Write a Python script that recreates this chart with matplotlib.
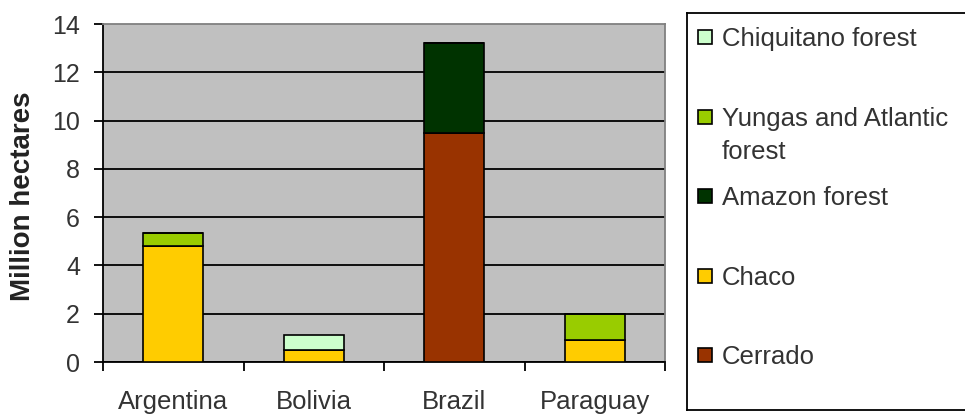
# Forest area lost by country and ecoregion, stacked bars
import numpy as np
import matplotlib.pyplot as plt
from matplotlib.patches import Rectangle

plt.rcParams['font.family'] = ['Liberation Sans', 'DejaVu Sans']

countries = ["Argentina", "Bolivia", "Brazil", "Paraguay"]

# million hectares, stacked bottom to top
cerrado = [0.0, 0.0, 9.5, 0.0]
chaco = [4.8, 0.5, 0.0, 0.9]
amazon = [0.0, 0.0, 3.7, 0.0]
yungas = [0.55, 0.0, 0.0, 1.1]
chiquitano = [0.0, 0.6, 0.0, 0.0]

series = [
    ("Cerrado", cerrado, "#993300"),
    ("Chaco", chaco, "#FFCC00"),
    ("Amazon forest", amazon, "#003300"),
    ("Yungas and Atlantic\nforest", yungas, "#99CC00"),
    ("Chiquitano forest", chiquitano, "#CCFFCC"),
]

yticks = [0, 2, 4, 6, 8, 10, 12, 14]

W, H = 965, 415
fig = plt.figure(figsize=(W / 100, H / 100), dpi=100)
fig.patch.set_facecolor("white")

# plot area
ax = fig.add_axes([103 / W, (H - 362) / H, (665 - 103) / W, (362 - 24) / H])
ax.set_facecolor("#C0C0C0")

x = np.arange(len(countries))
bottom = np.zeros(len(countries))
for name, vals, col in series:
    vals = np.array(vals)
    ax.bar(x, vals, width=0.43, bottom=bottom, color=col,
           edgecolor="black", linewidth=1.2, zorder=3)
    bottom += vals

ax.set_xlim(-0.5, len(countries) - 0.5)
ax.set_ylim(0, 14)
ax.set_yticks(yticks)
ax.set_yticklabels([str(v) for v in yticks], fontsize=18, color="#333333")
ax.yaxis.grid(True, color="black", linewidth=1.3)
ax.get_ygridlines()[-1].set_visible(False)
ax.set_axisbelow(True)

ax.set_xticks(x)
ax.set_xticklabels(countries, fontsize=18.5, color="#333333")
ax.set_xticks(np.arange(len(countries) + 1) - 0.5, minor=True)
ax.tick_params(axis="x", which="major", length=0, pad=20)
ax.tick_params(axis="x", which="minor", length=6.5, width=1.3, direction="out")
ax.tick_params(axis="y", length=6.5, width=1.3, pad=10, direction="out")

for s in ["left", "bottom"]:
    ax.spines[s].set_color("black")
    ax.spines[s].set_linewidth(1.3)
for s in ["top", "right"]:
    ax.spines[s].set_color("#808080")
    ax.spines[s].set_linewidth(1.3)

fig.text(23 / W, (H - 196) / H, "Million hectares", rotation=90,
         ha="center", va="center", fontsize=20, fontweight="bold",
         color="#222222")

# legend box, drawn in pixel units
lx0, ly0, lx1, ly1 = 687, 13, 975, 410
lg = fig.add_axes([lx0 / W, (H - ly1) / H, (lx1 - lx0) / W, (ly1 - ly0) / H])
lg.set_xlim(0, lx1 - lx0)
lg.set_ylim(ly1 - ly0, 0)
lg.set_xticks([])
lg.set_yticks([])
for s in lg.spines.values():
    s.set_color("black")
    s.set_linewidth(1.3)

step = 79.5
sq = 14
for i, (name, vals, col) in enumerate(reversed(series)):
    cy = 24 + i * step
    lg.add_patch(Rectangle((11, cy - sq / 2), sq, sq, facecolor=col,
                           edgecolor="black", linewidth=1.2))
    for j, line in enumerate(name.split("\n")):
        lg.text(35, cy + 9 + j * 33, line, fontsize=18.5, color="#333333",
                va="baseline", ha="left")

fig.savefig("out.png", dpi=100)
